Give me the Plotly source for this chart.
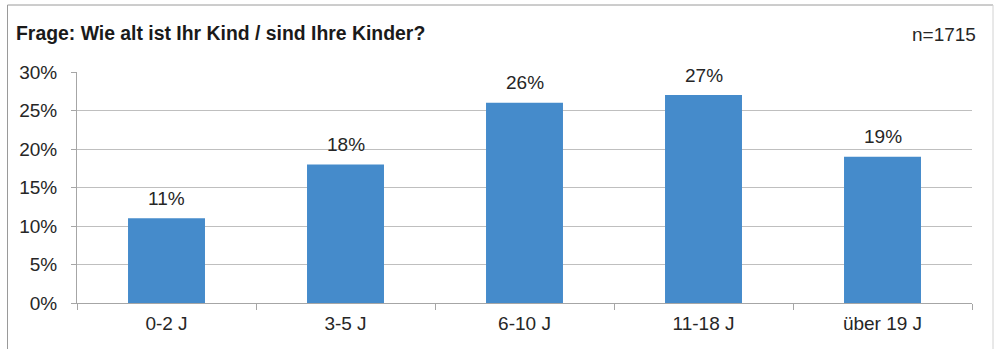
import plotly.graph_objects as go

# Altersgruppen der Kinder und Anteil der Nennungen (in %)
categories = ["0-2 J", "3-5 J", "6-10 J", "11-18 J", "über 19 J"]
shares = [11, 18, 26, 27, 19]
y_ticks = [0, 5, 10, 15, 20, 25, 30]
y_tick_labels = [f"{v}%" for v in y_ticks]
title_text = "Frage: Wie alt ist Ihr Kind / sind Ihre Kinder?"
sample_text = "n=1715"

FONT = "Liberation Sans, Arial, sans-serif"
TEXT = "#262626"
BAR = "#458BCB"
GRID = "#BFBFBF"
FS = 19

W, H = 995, 349
L, R, T, B = 77, 23, 72, 46
plot_w = W - L - R
plot_h = H - T - B


def px_x(px):
    return (px - L) / plot_w


def px_y(py):
    return (H - B - py) / plot_h


fig = go.Figure()
fig.add_trace(go.Bar(
    x=categories,
    y=shares,
    marker=dict(color=BAR, line=dict(width=0)),
    width=0.43,
    hoverinfo="skip",
))

# value labels above each bar
for cat, val in zip(categories, shares):
    fig.add_annotation(
        x=cat, y=val, text=f"{val}%", showarrow=False,
        yanchor="middle", yshift=20,
        font=dict(family=FONT, size=FS, color=TEXT),
    )

# question title and sample size
fig.add_annotation(
    x=px_x(14), y=px_y(33), xref="paper", yref="paper",
    text=f"<b>{title_text}</b>", showarrow=False,
    xanchor="left", yanchor="middle",
    font=dict(family=FONT, size=19.4, color="#1a1a1a"),
)
fig.add_annotation(
    x=px_x(978), y=px_y(35), xref="paper", yref="paper",
    text=sample_text, showarrow=False,
    xanchor="right", yanchor="middle",
    font=dict(family=FONT, size=FS, color=TEXT),
)

# chart frame
frame = [
    (px_x(7.5), px_y(5), px_x(993), px_y(5), "#9A9A9A"),
    (px_x(7.5), px_y(5), px_x(7.5), px_y(352), "#9A9A9A"),
    (px_x(993), px_y(5), px_x(993), px_y(352), "#D2D2D2"),
]
for x0, y0, x1, y1, col in frame:
    fig.add_shape(type="line", xref="paper", yref="paper",
                  x0=x0, y0=y0, x1=x1, y1=y1,
                  line=dict(color=col, width=1))

fig.update_layout(
    width=W, height=H,
    margin=dict(l=L, r=R, t=T, b=B, pad=0),
    paper_bgcolor="white",
    plot_bgcolor="white",
    showlegend=False,
    bargap=0.57,
    font=dict(family=FONT, size=FS, color=TEXT),
)
fig.update_xaxes(
    type="category",
    showgrid=False,
    showline=True, linecolor="#A6A6A6", linewidth=1,
    ticks="outside", ticklen=6, tickcolor="#A6A6A6",
    tickson="boundaries",
    ticklabelstandoff=3,
    tickfont=dict(family=FONT, size=FS, color=TEXT),
    fixedrange=True,
)
fig.update_yaxes(
    range=[0, 30],
    tickvals=y_ticks, ticktext=y_tick_labels,
    showgrid=True, gridcolor=GRID, gridwidth=1,
    showline=True, linecolor="#A6A6A6", linewidth=1,
    ticks="outside", ticklen=5, tickcolor="#A6A6A6",
    ticklabelstandoff=10,
    zeroline=False,
    tickfont=dict(family=FONT, size=FS, color=TEXT),
    fixedrange=True,
)

fig.write_html("out.html", config={"displayModeBar": False})
